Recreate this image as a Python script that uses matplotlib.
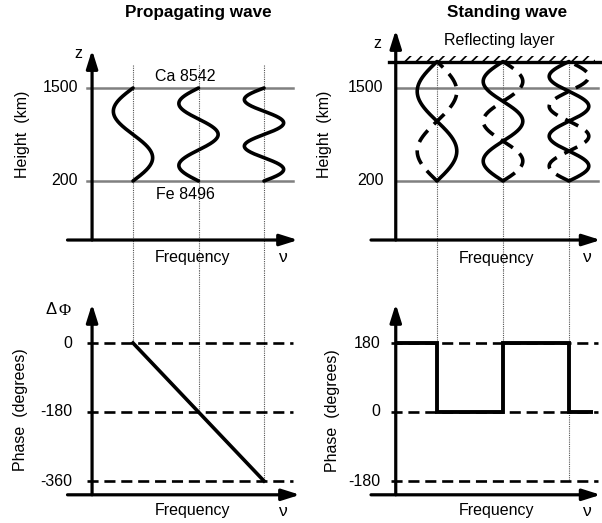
import numpy as np
import matplotlib
matplotlib.use("Agg")
import matplotlib.pyplot as plt
from matplotlib.patches import Rectangle

plt.rcParams['font.family'] = ['Liberation Sans', 'DejaVu Sans']
plt.rcParams['hatch.linewidth'] = 1.2

# ---- data -------------------------------------------------------------
frequencies = [1, 2, 3]                    # three sample frequencies
cycles_in_layer = [1.0, 1.5, 2.0]          # wavelengths between the two lines
wave_sign = [1, -1, 1]                     # initial swing direction
height_lines = [200, 1500]                 # km, Fe 8496 and Ca 8542
line_names = ["Fe 8496", "Ca 8542"]
reflect_height = 1870                      # km, reflecting layer
propagating_phase = [0, -180, -360]        # degrees at each frequency
standing_levels = [180, 0, 180, 0]         # degrees between frequency steps
left_phase_ticks = [0, -180, -360]
right_phase_ticks = [180, 0, -180]

W, H = 602, 523
fig = plt.figure(figsize=(W / 100, H / 100), dpi=100)

FS = 11.5
AMP = 0.3        # wave amplitude in frequency units
NU0 = 0.375      # position of the vertical axis
NU_END = 3.52    # tip of the frequency arrow


def make_panel(box, xmap, ymap):
    left, top, right, bottom = box
    ax = fig.add_axes([left / W, 1 - bottom / H, (right - left) / W, (bottom - top) / H])
    (px1, v1), (px2, v2) = xmap
    sx = (v2 - v1) / (px2 - px1)
    ax.set_xlim(v1 + (left - px1) * sx, v1 + (right - px1) * sx)
    (py1, w1), (py2, w2) = ymap
    sy = (w2 - w1) / (py2 - py1)
    ax.set_ylim(w1 + (bottom - py1) * sy, w1 + (top - py1) * sy)
    ax.axis('off')
    return ax


def ftext(px, py, s, **kw):
    kw.setdefault('fontsize', FS)
    fig.text(px / W, 1 - py / H, s, **kw)


def arrow(ax, start, end):
    ax.annotate('', xy=end, xytext=start,
                arrowprops=dict(arrowstyle='-|>,head_length=0.54,head_width=0.17',
                                lw=2.3, color='black', shrinkA=0, shrinkB=0,
                                mutation_scale=20),
                annotation_clip=False)


hmap = ((181, 200), (88, 1500))
ax_tl = make_panel((0, 0, 301, 270), ((133, 1), (264, 3)), hmap)
ax_tr = make_panel((301, 0, 602, 270), ((437, 1), (569, 3)), hmap)
ax_bl = make_panel((0, 270, 301, 523), ((133, 1), (264, 3)), ((343, 0), (481, -360)))
ax_br = make_panel((301, 270, 602, 523), ((437, 1), (569, 3)), ((343, 180), (481, -180)))

t = np.linspace(0, 1, 400)

# ---- top left: propagating wave ----------------------------------------
ax = ax_tl
base = ax.get_ylim()[0]
for h in height_lines:
    ax.plot([0.30, 3.44], [h, h], color='#808080', lw=1.8, zorder=1)
h_prop = height_lines[0] + t * (height_lines[1] - height_lines[0])
for nu, n, s in zip(frequencies, cycles_in_layer, wave_sign):
    ax.plot([nu, nu], [1820, base], ls=(0, (1, 1)), color='#555555', lw=0.8,
            zorder=0, clip_on=False)
    ax.plot(nu + s * AMP * np.sin(2 * np.pi * n * t), h_prop, color='black',
            lw=2.6, zorder=3, solid_capstyle='round')
arrow(ax, (NU0, -625), (NU0, 2031))
arrow(ax, (0.0, -625), (NU_END, -625))
ax.annotate(line_names[1], xy=(1.8, height_lines[1]), xytext=(0, 3),
            textcoords='offset points', ha='center', va='bottom', fontsize=FS)
ax.annotate(line_names[0], xy=(1.8, height_lines[0]), xytext=(0, -4),
            textcoords='offset points', ha='center', va='top', fontsize=FS)
for h in height_lines:
    ax.annotate(str(h), xy=(NU0, h), xytext=(-10, 0), textcoords='offset points',
                ha='right', va='center', fontsize=FS)

# ---- top right: standing wave ------------------------------------------
ax = ax_tr
base = ax.get_ylim()[0]
for h in height_lines:
    ax.plot([0.38, 3.44], [h, h], color='#808080', lw=1.8, zorder=1)
ax.plot([0.27, 3.5], [reflect_height, reflect_height], color='black', lw=2.4,
        zorder=3, clip_on=False)
ax.add_patch(Rectangle((0.45, reflect_height), 2.95, 75, facecolor='none',
                       edgecolor='black', hatch='///', lw=0, zorder=2))
h_stand = height_lines[0] + t * (reflect_height - height_lines[0])
for nu, n, s in zip(frequencies, cycles_in_layer, wave_sign):
    ax.plot([nu, nu], [reflect_height, base], ls=(0, (1, 1)), color='#555555',
            lw=0.8, zorder=0, clip_on=False)
    y = AMP * np.sin(2 * np.pi * n * t)
    ax.plot(nu + s * y, h_stand, color='black', lw=2.6, zorder=3,
            solid_capstyle='round')
    ax.plot(nu - s * y, h_stand, color='black', lw=2.6, zorder=3,
            dashes=(4.0, 2.4))
arrow(ax, (NU0, -625), (NU0, 2311))
arrow(ax, (0.0, -625), (3.48, -625))
for h in height_lines:
    ax.annotate(str(h), xy=(NU0, h), xytext=(-9, 0), textcoords='offset points',
                ha='right', va='center', fontsize=FS)

# ---- bottom left: propagating phase ------------------------------------
ax = ax_bl
top = ax.get_ylim()[1]
for p in left_phase_ticks:
    ax.plot([0.30, 3.44], [p, p], color='black', lw=1.9, dashes=(4.2, 2.2), zorder=1)
    ax.annotate(str(p), xy=(NU0, p), xytext=(-14, 0), textcoords='offset points',
                ha='right', va='center', fontsize=FS)
for nu, p in zip(frequencies, propagating_phase):
    ax.plot([nu, nu], [top, p], ls=(0, (1, 1)), color='#555555', lw=0.8,
            zorder=0, clip_on=False)
ax.plot(frequencies, propagating_phase, color='black', lw=2.6, zorder=3)
arrow(ax, (NU0, -396), (NU0, 102))
arrow(ax, (0.0, -396), (3.55, -396))

# ---- bottom right: standing phase --------------------------------------
ax = ax_br
top = ax.get_ylim()[1]
for p in right_phase_ticks:
    ax.plot([0.30, 3.44], [p, p], color='black', lw=1.9, dashes=(4.2, 2.2), zorder=1)
    ax.annotate(str(p), xy=(NU0, p), xytext=(-11, 0), textcoords='offset points',
                ha='right', va='center', fontsize=FS)
edges = [NU0] + frequencies + [3.36]
ax.stairs(standing_levels, edges, baseline=None, color='black', lw=2.8, zorder=3)
for nu, p in zip(frequencies, [180, 180, -180]):
    ax.plot([nu, nu], [top, p], ls=(0, (1, 1)), color='#555555', lw=0.8,
            zorder=0, clip_on=False)
arrow(ax, (NU0, -216), (NU0, 282))
arrow(ax, (0.0, -216), (3.48, -216))

# ---- labels -------------------------------------------------------------
ftext(198, 13, "Propagating wave", ha='center', va='center', fontsize=12.3,
      fontweight='bold')
ftext(507, 13, "Standing wave", ha='center', va='center', fontsize=12.3,
      fontweight='bold')
ftext(499, 40, "Reflecting layer", ha='center', va='center')
ftext(78, 54, "z", ha='center', va='center')
ftext(377, 44, "z", ha='center', va='center')
for cx, cy in [(192, 257), (497, 258), (192, 510), (497, 510)]:
    ftext(cx, cy, "Frequency", ha='center', va='center')
for cx, cy in [(283, 257), (587, 257), (283, 511), (587, 511)]:
    ftext(cx, cy, "ν", ha='center', va='center', fontsize=12.5)
ftext(22, 134, "Height  (km)", ha='center', va='center', rotation=90)
ftext(325, 134, "Height  (km)", ha='center', va='center', rotation=90)
ftext(21, 410, "Phase  (degrees)", ha='center', va='center', rotation=90)
ftext(333, 411, "Phase  (degrees)", ha='center', va='center', rotation=90)
ftext(51, 310, "Δ", ha='center', va='center', fontsize=12)
ftext(65, 311, "Φ", ha='center', va='center', fontsize=12, family='Liberation Serif')

fig.savefig("out.png", dpi=100)
